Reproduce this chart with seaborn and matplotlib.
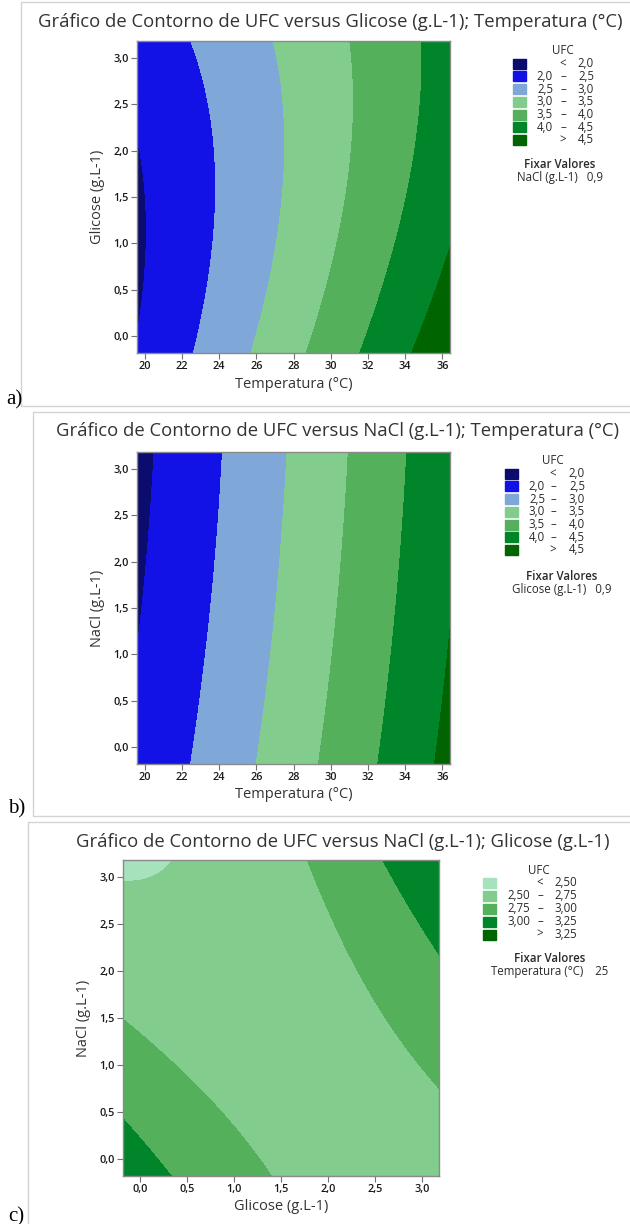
import numpy as np
import matplotlib
matplotlib.use("Agg")
import matplotlib.pyplot as plt
from matplotlib.patches import Rectangle
import seaborn as sns

# ---- dados (pontos sobre as linhas de contorno) ----
# painel a: UFC vs Glicose x Temperatura (NaCl = 0,9)
a_temp = [20.07, 19.59, 19.59,
          22.44, 23.24, 23.60, 23.83, 23.87, 23.69, 23.34, 22.58,
          26.95, 27.37, 27.54, 27.50, 27.18, 26.65, 25.75,
          31.07, 31.18, 31.03, 30.68, 30.23, 29.60, 28.62,
          34.92, 34.85, 34.62, 34.17, 33.63, 32.82, 31.57,
          34.35, 35.34, 36.41]
a_glic = [1.14, 2.02, 0.17,
          3.18, 2.69, 2.33, 1.79, 1.25, 0.71, 0.35, -0.18,
          3.18, 2.69, 2.15, 1.61, 1.07, 0.53, -0.18,
          3.18, 2.69, 2.15, 1.61, 1.07, 0.53, -0.18,
          3.18, 2.69, 2.15, 1.61, 1.07, 0.53, -0.18,
          -0.18, 0.35, 0.89]
a_ufc = [2.0] * 3 + [2.5] * 8 + [3.0] * 7 + [3.5] * 7 + [4.0] * 7 + [4.5] * 3

# painel b: UFC vs NaCl x Temperatura (Glicose = 0,9)
b_temp = [20.30, 19.90, 19.59,
          24.37, 24.05, 23.40, 22.90, 22.60,
          27.80, 27.45, 26.90, 26.40, 26.00,
          30.90, 30.65, 30.10, 29.60, 29.30,
          34.00, 33.65, 33.20, 32.80, 32.50,
          35.40, 35.90, 36.41]
b_nacl = [3.18, 2.00, 1.00,
          3.18, 2.20, 1.20, 0.40, -0.18,
          3.18, 2.20, 1.20, 0.40, -0.18,
          3.18, 2.20, 1.20, 0.40, -0.18,
          3.18, 2.20, 1.20, 0.40, -0.18,
          -0.18, 0.20, 0.50]
b_ufc = [2.0] * 3 + [2.5] * 5 + [3.0] * 5 + [3.5] * 5 + [4.0] * 5 + [4.5] * 3

# painel c: UFC vs NaCl x Glicose (Temperatura = 25)
c_glic = [-0.18, 0.15, 0.43,
          -0.18, 0.40, 0.90, 1.34,
          -0.18, 0.10, 0.35,
          1.55, 2.20, 2.70, 3.18,
          2.95, 3.08, 3.18,
          3.12, 3.18, 3.18]
c_nacl = [2.90, 3.00, 3.18,
          1.45, 0.95, 0.40, -0.18,
          0.45, 0.15, -0.18,
          3.18, 2.20, 1.40, 0.75,
          3.18, 2.50, 2.00,
          3.18, 3.10, 3.18]
c_ufc = ([2.50] * 3 + [2.75] * 4 + [3.00] * 3 + [2.75] * 4 + [3.00] * 3
         + [3.25] * 2 + [3.28])

cores_ab = ["#0c0c6e", "#1212e6", "#7fa8d8", "#82cd8e", "#54b05a", "#00852a", "#006400"]
niveis_ab = [2.0, 2.5, 3.0, 3.5, 4.0, 4.5]
rotulos_ab = [("", "<", "2,0"), ("2,0", "–", "2,5"), ("2,5", "–", "3,0"), ("3,0", "–", "3,5"),
              ("3,5", "–", "4,0"), ("4,0", "–", "4,5"), ("", ">", "4,5")]
cores_c = ["#a6e3bd", "#82cd8e", "#54b05a", "#00852a", "#006400"]
niveis_c = [2.50, 2.75, 3.00, 3.25]
rotulos_c = [("", "<", "2,50"), ("2,50", "–", "2,75"), ("2,75", "–", "3,00"),
             ("3,00", "–", "3,25"), ("", ">", "3,25")]

temp_lim = (19.59, 36.41)
conc_lim = (-0.18, 3.18)
temp_ticks = [20, 22, 24, 26, 28, 30, 32, 34, 36]
conc_ticks = [0.0, 0.5, 1.0, 1.5, 2.0, 2.5, 3.0]

W, H = 630, 1224
sns.set_theme(style="white")
plt.rcParams['font.family'] = ['Open Sans', 'DejaVu Sans']
fig = plt.figure(figsize=(W / 100, H / 100), dpi=100)


def px(x0, y0, x1, y1):
    return [x0 / W, 1 - y1 / H, (x1 - x0) / W, (y1 - y0) / H]


def ajuste(x, y, z):
    # superficie de resposta quadratica ajustada aos pontos lidos
    x, y, z = map(np.asarray, (x, y, z))
    A = np.column_stack([np.ones_like(x), x, y, x * x, y * y, x * y])
    coef, *_ = np.linalg.lstsq(A, z, rcond=None)
    return lambda X, Y: (coef[0] + coef[1] * X + coef[2] * Y + coef[3] * X * X
                         + coef[4] * Y * Y + coef[5] * X * Y)


def virgula(v, _=None):
    return f"{v:g}" if float(v).is_integer() and v > 5 else f"{v:.1f}".replace(".", ",")


def painel(rect, x, y, z, xlim, ylim, xticks, yticks, niveis, cores, xlabel, ylabel):
    ax = fig.add_axes(px(*rect))
    f = ajuste(x, y, z)
    gx = np.linspace(*xlim, 300)
    gy = np.linspace(*ylim, 300)
    GX, GY = np.meshgrid(gx, gy)
    ax.contourf(GX, GY, f(GX, GY), levels=[-100] + niveis + [100], colors=cores)
    ax.set_xlim(*xlim)
    ax.set_ylim(*ylim)
    ax.set_xticks(xticks)
    ax.set_yticks(yticks)
    ax.xaxis.set_major_formatter(plt.FuncFormatter(virgula))
    ax.yaxis.set_major_formatter(plt.FuncFormatter(virgula))
    ax.tick_params(direction="out", length=4, width=0.8, color="#707070",
                   labelsize=7.8, labelcolor="#1a1a1a", pad=2, bottom=True, left=True)
    for lab in ax.get_xticklabels() + ax.get_yticklabels():
        lab.set_fontweight("semibold")
    for s in ax.spines.values():
        s.set_color("#8a8a8a")
        s.set_linewidth(1.0)
    ax.set_xlabel(xlabel, fontsize=10.5, color="#333333", labelpad=3)
    ax.set_ylabel(ylabel, fontsize=10.5, color="#333333", labelpad=6)
    return ax


def legenda(x_sq, y0, passo, cores, rotulos, x_lo, x_dash, x_hi, x_head, fix_y, fix_txt, fix_x):
    fs = 8.3
    cor = "#2a2a2a"
    fig.text(x_head / W, 1 - y0 / H, "UFC", fontsize=fs, color=cor, ha="center", va="center")
    for i, (c, (lo, meio, hi)) in enumerate(zip(cores, rotulos)):
        yy = y0 + passo * (i + 1)
        fig.patches.append(Rectangle((x_sq / W, 1 - (yy + 5) / H), 13 / W, 10 / H,
                                     transform=fig.transFigure, color=c, figure=fig))
        fig.text(x_lo / W, 1 - yy / H, lo, fontsize=fs, color=cor, ha="right", va="center")
        fig.text(x_dash / W, 1 - yy / H, meio, fontsize=fs, color=cor, ha="center", va="center")
        fig.text(x_hi / W, 1 - yy / H, hi, fontsize=fs, color=cor, ha="right", va="center")
    fig.text(fix_x / W, 1 - fix_y / H, "Fixar Valores", fontsize=fs, color=cor,
             ha="center", va="center", fontweight="semibold")
    fig.text(fix_x / W, 1 - (fix_y + 13) / H, fix_txt, fontsize=fs, color=cor,
             ha="center", va="center")


def moldura(x0, y0, x1, y1):
    fig.patches.append(Rectangle((x0 / W, 1 - y1 / H), (x1 - x0) / W, (y1 - y0) / H,
                                 transform=fig.transFigure, fill=False, edgecolor="#d4d4d4",
                                 linewidth=1.0, figure=fig))


moldura(21, 2, 640, 406)
moldura(33, 412, 640, 816)
moldura(28, 822, 640, 1240)

tit = dict(fontsize=13.3, color="#333333", ha="center", va="center")

# painel a
fig.text(330 / W, 1 - 22 / H, "Gráfico de Contorno de UFC versus Glicose (g.L-1); Temperatura (°C)", **tit)
painel((137, 41, 450, 353), a_temp, a_glic, a_ufc, temp_lim, conc_lim, temp_ticks, conc_ticks,
       niveis_ab, cores_ab, "Temperatura (°C)", "Glicose (g.L-1)")
legenda(513, 51, 12.7, cores_ab, rotulos_ab, 553, 563, 594, 563, 165, "NaCl (g.L-1)   0,9", 560)

# painel b
fig.text(337 / W, 1 - 431 / H, "Gráfico de Contorno de UFC versus NaCl (g.L-1); Temperatura (°C)", **tit)
painel((137, 452, 450, 764), b_temp, b_nacl, b_ufc, temp_lim, conc_lim, temp_ticks, conc_ticks,
       niveis_ab, cores_ab, "Temperatura (°C)", "NaCl (g.L-1)")
legenda(505, 461, 12.7, cores_ab, rotulos_ab, 545, 553, 585, 553, 576, "Glicose (g.L-1)   0,9", 562)

# painel c
fig.text(343 / W, 1 - 842 / H, "Gráfico de Contorno de UFC versus NaCl (g.L-1); Glicose (g.L-1)", **tit)
painel((123, 860, 439, 1176), c_glic, c_nacl, c_ufc, conc_lim, conc_lim, conc_ticks, conc_ticks,
       niveis_c, cores_c, "Glicose (g.L-1)", "NaCl (g.L-1)")
legenda(483, 870, 12.9, cores_c, rotulos_c, 530, 540, 577, 539, 958, "Temperatura (°C)    25", 550)

serif = dict(fontsize=15, color="black", family=["Liberation Serif", "DejaVu Serif"], va="baseline")
fig.text(6 / W, 1 - 404 / H, "a)", **serif)
fig.text(8 / W, 1 - 813 / H, "b)", **serif)
fig.text(8 / W, 1 - 1221 / H, "c)", **serif)

fig.savefig("out.png", dpi=100)
